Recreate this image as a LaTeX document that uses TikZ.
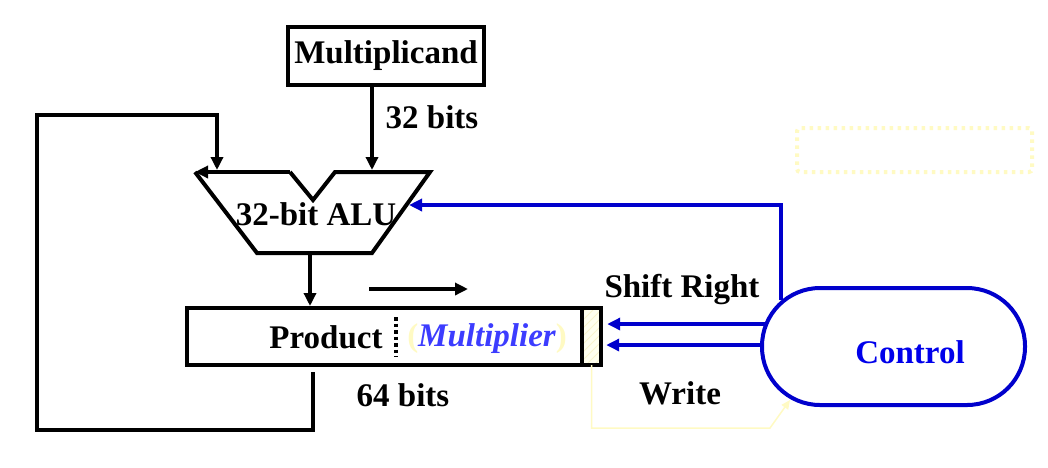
\documentclass[tikz,border=0pt]{standalone}
\usepackage{fontspec}
\setmainfont{Liberation Serif}
\usetikzlibrary{arrows.meta,shapes.misc}
\definecolor{ctlblue}{RGB}{0,0,204}
\definecolor{txtblue}{RGB}{0,0,235}
\definecolor{multblue}{RGB}{60,60,255}
\definecolor{lyellow}{RGB}{255,250,195}
\definecolor{hatchbg}{RGB}{255,255,238}
\definecolor{hatchln}{RGB}{248,244,205}
\begin{document}
\begin{tikzpicture}[x=1pt,y=-1pt,
  wire/.style={line width=4pt,line join=miter},
  bluewire/.style={line width=4pt,draw=ctlblue},
  tip/.style={-{Triangle[length=13pt,width=12pt]}},
  lbl/.style={font=\fontsize{33}{38}\selectfont\bfseries,inner sep=0pt},
  boxstyle/.style={draw,line width=4pt,inner sep=0pt}]
\useasboundingbox (0,0) rectangle (1048,467);

% Multiplicand register
\node[boxstyle,minimum width=196pt,minimum height=58pt,lbl] (mc) at (386,56) {Multiplicand};
\node[lbl] (b32) at (432,117) {32 bits};

% ALU shape
\coordinate (aTL) at (195,172);
\coordinate (aN1) at (290,172);
\coordinate (aNotch) at (313,200);
\coordinate (aN2) at (335,172);
\coordinate (aTR) at (430,172);
\coordinate (aBR) at (372,253);
\coordinate (aBL) at (257,253);
\draw[wire] (aN1) -- (aNotch) -- (aN2) -- (aTR) -- (aBR) -- (aBL) -- (aTL);
\draw[wire,tip] (aN1) -- (aTL);
\node[lbl] (alu) at (316,214) {32-bit ALU};

% Product register
\node[boxstyle,minimum width=414pt,minimum height=57pt] (prod) at (394,336.5) {};
\node[fill=hatchbg,minimum width=19pt,minimum height=57pt,inner sep=0pt] (lsb) at (591.5,336.5) {};
\begin{scope}
  \clip (lsb.south west) rectangle (lsb.north east);
  \foreach \k in {-60,-52,...,20}
    \draw[hatchln,line width=1pt] ([xshift=\k pt]lsb.south west) -- ++(60,-60);
\end{scope}
\draw[line width=3.5pt] (lsb.south west) rectangle (lsb.north east);
\node[lbl] (ptxt) at (326,337) {Product};
\coordinate (dotTop) at (396,317);
\coordinate (dotBot) at (396,357);
\draw[line width=3.5pt,dash pattern=on 3.5pt off 3pt] (dotTop) -- (dotBot);
\node[lbl] (mtxt) at (487,339) {\textcolor{lyellow}{(}\textcolor{multblue}{\itshape Multiplier}\textcolor{lyellow}{)}};
\node[lbl] (b64) at (403,395) {64 bits};

% shift direction arrow
\coordinate (shA) at (369,289);
\coordinate (shB) at (468,289);
\draw[wire,tip] (shA) -- (shB);

% Control
\node[draw=ctlblue,line width=4pt,rounded corners=58pt,minimum width=263pt,minimum height=117pt,inner sep=0pt] (ctrl) at (893.5,346.5) {};
\node[lbl,text=txtblue] (ctxt) at (910,352) {Control};
\node[lbl] (sr) at (682,290) {Shift Right};
\node[lbl] (wr) at (680,393) {Write};

% connectors
\draw[wire,tip] (mc.south -| 372,0) -- (372,170);
\coordinate (aluOut) at (310,253);
\draw[wire,tip] (aluOut) -- (prod.north -| aluOut);
\coordinate (loopStart) at (313,372);
\coordinate (loopIn) at (217,170);
\draw[wire,tip] (loopStart) -- (313,430) -- (37,430) -- (37,115) -- (217,115) -- (loopIn);
\coordinate (ctrlTop) at (781,300);
\coordinate (aluIn) at (409,205);
\draw[bluewire,tip] (ctrlTop) -- (781,205) -- (aluIn);
\coordinate (srFrom) at (765,324);
\coordinate (wrFrom) at (762,345);
\draw[bluewire,tip] (srFrom) -- ([xshift=6pt]lsb.east |- srFrom);
\draw[bluewire,tip] (wrFrom) -- ([xshift=5pt]lsb.east |- wrFrom);
\coordinate (yTurn) at (770,428);
\coordinate (yEnd) at (790,400);
\draw[lyellow,line width=1.5pt,-{Triangle[length=9pt,width=8pt]}] (lsb.south) -- (lsb.south |- yTurn) -- (yTurn) -- (yEnd);

% dotted placeholder box
\node[draw=lyellow,line width=4pt,dash pattern=on 3.5pt off 4.5pt,rounded corners=3pt,minimum width=235pt,minimum height=44pt,inner sep=0pt] (ph) at (914.5,150) {};
\end{tikzpicture}
\end{document}
